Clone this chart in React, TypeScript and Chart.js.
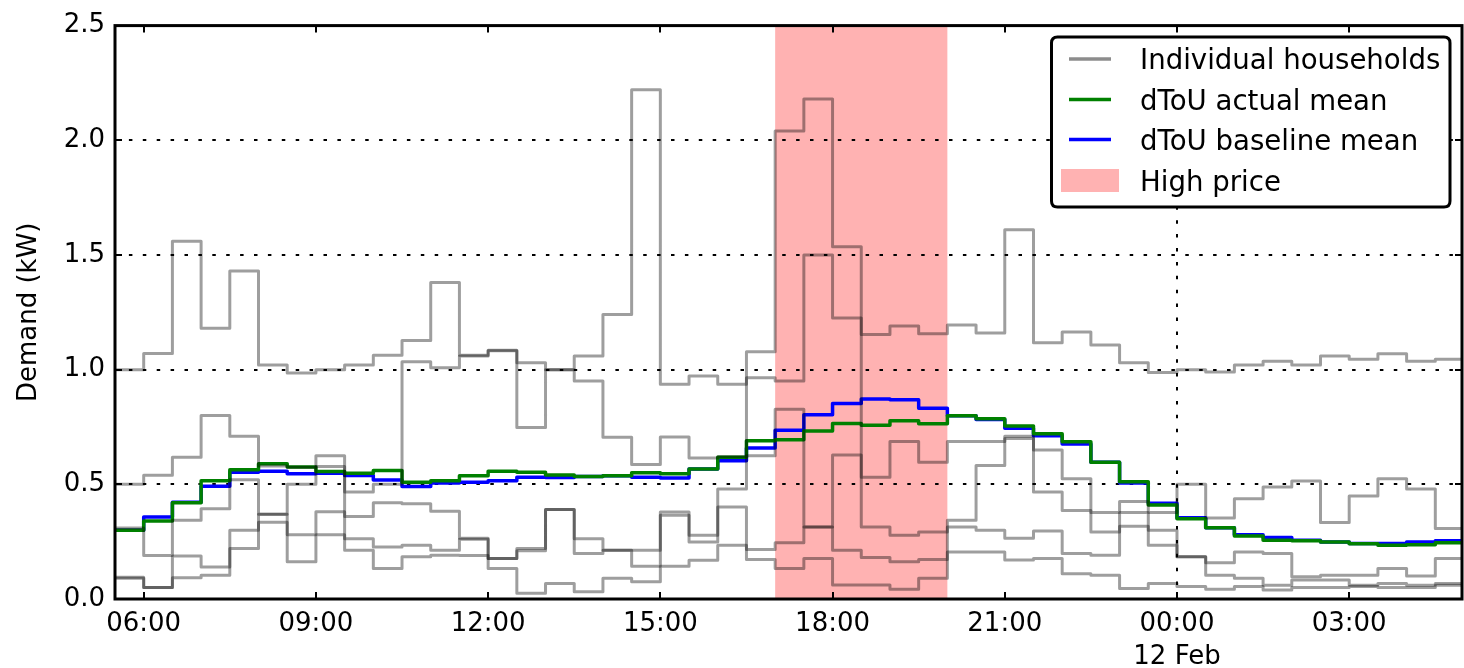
import React, { useEffect, useRef } from "react";
import { Chart, registerables } from "chart.js";

Chart.register(...registerables);

// Half-hourly demand slots: first slot starts 05:30 on 11 Feb, last one ends 05:00 on 12 Feb.
// Hours after midnight of 11 Feb are used on the x axis (24 = 00:00, 12 Feb).
const SLOT_START_HOUR = 5.5;
const SLOT_LENGTH_HOURS = 0.5;
const LAST_SLOT_END_HOUR = 29;
const X_AXIS_MIN = 5.5;
const X_AXIS_MAX = 28.965;

// Demand (kW) of five example households, one value per half-hour slot
const HOUSEHOLD_A = [1.0, 1.07, 1.56, 1.18, 1.43, 1.02, 0.985, 1.0, 1.02, 1.063, 1.127, 1.38, 1.063, 1.085, 1.03, 1.0, 1.06, 1.24, 2.22, 0.936, 0.972, 0.936, 1.078, 2.04, 2.18, 1.536, 1.153, 1.19, 1.157, 1.195, 1.16, 1.61, 1.117, 1.164, 1.107, 1.03, 0.987, 1.0, 0.99, 1.02, 1.037, 1.02, 1.059, 1.045, 1.069, 1.037, 1.045];
const HOUSEHOLD_B = [0.5, 0.54, 0.618, 0.8, 0.71, 0.58, 0.574, 0.625, 0.466, 0.5, 1.034, 1.008, 1.06, 1.082, 0.748, 1.0, 0.95, 0.705, 0.586, 0.706, 0.615, 0.62, 0.965, 0.95, 1.5, 1.225, 0.531, 0.687, 0.596, 0.687, 0.687, 0.71, 0.65, 0.524, 0.377, 0.425, 0.377, 0.5, 0.353, 0.437, 0.488, 0.514, 0.333, 0.449, 0.524, 0.48, 0.307];
const HOUSEHOLD_C = [0.31, 0.19, 0.343, 0.394, 0.52, 0.37, 0.5, 0.578, 0.36, 0.42, 0.415, 0.383, 0.265, 0.177, 0.22, 0.39, 0.263, 0.213, 0.213, 0.379, 0.278, 0.48, 0.625, 0.827, 0.314, 0.628, 0.314, 0.278, 0.292, 0.343, 0.582, 0.7, 0.466, 0.386, 0.292, 0.377, 0.3, 0.184, 0.158, 0.205, 0.198, 0.097, 0.104, 0.104, 0.133, 0.1, 0.177];
const HOUSEHOLD_D = [0.095, 0.05, 0.187, 0.14, 0.3, 0.37, 0.28, 0.38, 0.263, 0.227, 0.234, 0.213, 0.26, 0.177, 0.21, 0.39, 0.198, 0.213, 0.143, 0.365, 0.249, 0.401, 0.216, 0.245, 0.314, 0.213, 0.181, 0.162, 0.172, 0.314, 0.3, 0.265, 0.297, 0.198, 0.191, 0.317, 0.234, 0.184, 0.104, 0.09, 0.06, 0.083, 0.083, 0.06, 0.068, 0.06, 0.068];
const HOUSEHOLD_E = [0.09, 0.05, 0.093, 0.104, 0.22, 0.335, 0.162, 0.28, 0.213, 0.133, 0.184, 0.191, 0.19, 0.133, 0.025, 0.068, 0.032, 0.09, 0.075, 0.143, 0.169, 0.234, 0.172, 0.133, 0.177, 0.061, 0.061, 0.042, 0.09, 0.205, 0.205, 0.17, 0.177, 0.11, 0.104, 0.046, 0.068, 0.054, 0.042, 0.054, 0.039, 0.05, 0.05, 0.054, 0.05, 0.05, 0.06];

// Group means for the dToU trial
const ACTUAL_MEAN = [0.3, 0.34, 0.42, 0.516, 0.564, 0.59, 0.575, 0.556, 0.548, 0.56, 0.509, 0.516, 0.537, 0.557, 0.553, 0.541, 0.534, 0.537, 0.55, 0.546, 0.567, 0.618, 0.69, 0.694, 0.733, 0.765, 0.758, 0.777, 0.764, 0.799, 0.786, 0.754, 0.72, 0.686, 0.596, 0.511, 0.41, 0.35, 0.311, 0.275, 0.256, 0.254, 0.248, 0.241, 0.234, 0.237, 0.245];
const BASELINE_MEAN = [0.3, 0.357, 0.422, 0.492, 0.553, 0.557, 0.546, 0.548, 0.538, 0.519, 0.49, 0.506, 0.509, 0.516, 0.531, 0.53, 0.534, 0.537, 0.531, 0.528, 0.567, 0.603, 0.658, 0.736, 0.803, 0.852, 0.872, 0.869, 0.832, 0.799, 0.783, 0.745, 0.712, 0.676, 0.596, 0.506, 0.418, 0.354, 0.311, 0.28, 0.268, 0.256, 0.249, 0.242, 0.242, 0.249, 0.254];

// High price period (hours)
const HIGH_PRICE_START = 17;
const HIGH_PRICE_END = 20;

// Axis ticks
const X_TICK_HOURS = [6, 9, 12, 15, 18, 21, 24, 27];
const MIDNIGHT_DATE_LABEL = "12 Feb";
const Y_MIN = 0;
const Y_MAX = 2.5;
const Y_STEP = 0.5;
const GRID_Y_VALUES = [0.5, 1.0, 1.5, 2.0];
const GRID_X_VALUES = [24];

const LEGEND_LABELS = ["Individual households", "dToU actual mean", "dToU baseline mean", "High price"];

const FONT = "'DejaVu Sans', sans-serif";
const AXIS_FONT_SIZE = 26;
const HOUSEHOLD_COLOR = "rgba(0,0,0,0.38)";
const ACTUAL_COLOR = "#008000";
const BASELINE_COLOR = "#0000ff";
const HIGH_PRICE_COLOR = "rgba(255,0,0,0.3)";

// Step series: each value holds for its half hour; a closing point ends the last slot.
function toSteps(values: number[]) {
  const pts = values.map((v, i) => ({ x: SLOT_START_HOUR + i * SLOT_LENGTH_HOURS, y: v }));
  pts.push({ x: LAST_SLOT_END_HOUR, y: values[values.length - 1] });
  return pts;
}

function hourLabel(v: number): string | string[] {
  const h = ((v % 24) + 24) % 24;
  const s = `${String(h).padStart(2, "0")}:00`;
  return v === 24 ? [s, MIDNIGHT_DATE_LABEL] : s;
}

const axesDecor = {
  id: "axesDecor",
  beforeDatasetsDraw(chart: any) {
    const { ctx, chartArea: a, scales } = chart;
    const x = scales.x;
    const y = scales.y;
    ctx.save();
    // high price band
    const x0 = x.getPixelForValue(HIGH_PRICE_START);
    const x1 = x.getPixelForValue(HIGH_PRICE_END);
    ctx.fillStyle = HIGH_PRICE_COLOR;
    ctx.fillRect(x0, a.top, x1 - x0, a.bottom - a.top);
    // dotted grid
    ctx.strokeStyle = "#000";
    ctx.lineWidth = 2;
    ctx.setLineDash([3.5, 10.4]);
    ctx.beginPath();
    for (const v of GRID_Y_VALUES) {
      const py = Math.round(y.getPixelForValue(v));
      ctx.moveTo(a.left, py);
      ctx.lineTo(a.right, py);
    }
    for (const v of GRID_X_VALUES) {
      const px = Math.round(x.getPixelForValue(v));
      ctx.moveTo(px, a.bottom);
      ctx.lineTo(px, a.top);
    }
    ctx.stroke();
    ctx.restore();
  },
  afterDatasetsDraw(chart: any) {
    const { ctx, chartArea: a, scales } = chart;
    const x = scales.x;
    const y = scales.y;
    ctx.save();
    // inward tick marks on all four sides
    ctx.strokeStyle = "#000";
    ctx.lineWidth = 2;
    ctx.beginPath();
    for (const v of X_TICK_HOURS) {
      const px = Math.round(x.getPixelForValue(v));
      ctx.moveTo(px, a.bottom);
      ctx.lineTo(px, a.bottom - 7);
      ctx.moveTo(px, a.top);
      ctx.lineTo(px, a.top + 7);
    }
    for (let v = Y_MIN; v <= Y_MAX + 1e-9; v += Y_STEP) {
      const py = Math.round(y.getPixelForValue(v));
      ctx.moveTo(a.left, py);
      ctx.lineTo(a.left + 7, py);
      ctx.moveTo(a.right, py);
      ctx.lineTo(a.right - 7, py);
    }
    ctx.stroke();
    // axes frame
    ctx.lineWidth = 3;
    ctx.strokeRect(a.left, a.top, a.right - a.left, a.bottom - a.top);

    // legend
    const bx = 1051.5, by = 37, bw = 398.5, bh = 170, r = 6;
    ctx.beginPath();
    ctx.moveTo(bx + r, by);
    ctx.lineTo(bx + bw - r, by);
    ctx.quadraticCurveTo(bx + bw, by, bx + bw, by + r);
    ctx.lineTo(bx + bw, by + bh - r);
    ctx.quadraticCurveTo(bx + bw, by + bh, bx + bw - r, by + bh);
    ctx.lineTo(bx + r, by + bh);
    ctx.quadraticCurveTo(bx, by + bh, bx, by + bh - r);
    ctx.lineTo(bx, by + r);
    ctx.quadraticCurveTo(bx, by, bx + r, by);
    ctx.closePath();
    ctx.fillStyle = "#fff";
    ctx.fill();
    ctx.lineWidth = 3;
    ctx.strokeStyle = "#000";
    ctx.stroke();

    const rowY = [59, 99.5, 139.5, 180.5];
    const samples = [
      { color: "rgba(0,0,0,0.45)", width: 3.3 },
      { color: ACTUAL_COLOR, width: 3.5 },
      { color: BASELINE_COLOR, width: 3.5 },
    ];
    samples.forEach((s, i) => {
      ctx.beginPath();
      ctx.strokeStyle = s.color;
      ctx.lineWidth = s.width;
      ctx.moveTo(1069, rowY[i]);
      ctx.lineTo(1111, rowY[i]);
      ctx.stroke();
    });
    ctx.fillStyle = HIGH_PRICE_COLOR;
    ctx.fillRect(1061, rowY[3] - 11.5, 58, 23);

    ctx.fillStyle = "#000";
    ctx.font = `27.6px ${FONT}`;
    ctx.textBaseline = "alphabetic";
    ctx.textAlign = "left";
    LEGEND_LABELS.forEach((t, i) => ctx.fillText(t, 1140, rowY[i] + 10.2));
    ctx.restore();
  },
};

export default function App() {
  const ref = useRef<HTMLCanvasElement>(null);

  useEffect(() => {
    const canvas = ref.current;
    if (!canvas) return;

    const households = [HOUSEHOLD_A, HOUSEHOLD_B, HOUSEHOLD_C, HOUSEHOLD_D, HOUSEHOLD_E];
    const datasets: any[] = households.map((h, i) => ({
      label: i === 0 ? LEGEND_LABELS[0] : `${LEGEND_LABELS[0]} ${i + 1}`,
      data: toSteps(h),
      borderColor: HOUSEHOLD_COLOR,
      borderWidth: 3,
    }));
    datasets.push({ label: LEGEND_LABELS[1], data: toSteps(ACTUAL_MEAN), borderColor: ACTUAL_COLOR, borderWidth: 3.5 });
    datasets.push({ label: LEGEND_LABELS[2], data: toSteps(BASELINE_MEAN), borderColor: BASELINE_COLOR, borderWidth: 3.5 });
    datasets.forEach((d) => {
      d.stepped = true;
      d.pointRadius = 0;
      d.fill = false;
      d.tension = 0;
      d.borderJoinStyle = "round";
      d.borderCapStyle = "butt";
    });

    const chart = new Chart(canvas, {
      type: "line",
      data: { datasets },
      options: {
        animation: false,
        responsive: false,
        maintainAspectRatio: false,
        devicePixelRatio: 1,
        parsing: false as any,
        layout: { padding: { left: 0, top: 23, right: 2, bottom: 0 } },
        plugins: { legend: { display: false }, tooltip: { enabled: false } },
        scales: {
          x: {
            type: "linear",
            min: X_AXIS_MIN,
            max: X_AXIS_MAX,
            afterBuildTicks: (scale: any) => {
              scale.ticks = X_TICK_HOURS.map((v) => ({ value: v }));
            },
            afterFit: (scale: any) => {
              scale.height = 69;
            },
            grid: { display: false, drawTicks: false },
            border: { display: false },
            ticks: {
              autoSkip: false,
              maxRotation: 0,
              padding: 9,
              color: "#000",
              font: { family: FONT, size: AXIS_FONT_SIZE, lineHeight: 1.25 },
              callback: (v: any) => hourLabel(Number(v)),
            },
          },
          y: {
            type: "linear",
            min: Y_MIN,
            max: Y_MAX,
            afterFit: (scale: any) => {
              scale.width = 115;
            },
            grid: { display: false, drawTicks: false },
            border: { display: false },
            ticks: {
              stepSize: Y_STEP,
              padding: 10,
              color: "#000",
              font: { family: FONT, size: AXIS_FONT_SIZE },
              callback: (v: any) => Number(v).toFixed(1),
            },
            title: {
              display: true,
              text: "Demand (kW)",
              color: "#000",
              font: { family: FONT, size: AXIS_FONT_SIZE, lineHeight: 1.2 },
              padding: { top: 14, bottom: 0 },
            },
          },
        },
      },
      plugins: [axesDecor],
    } as any);

    return () => chart.destroy();
  }, []);

  return (
    <div style={{ position: "fixed", left: 0, top: 0, width: 1464, height: 668, background: "#fff" }}>
      <canvas ref={ref} width={1464} height={668} style={{ display: "block", width: 1464, height: 668 }} />
    </div>
  );
}
